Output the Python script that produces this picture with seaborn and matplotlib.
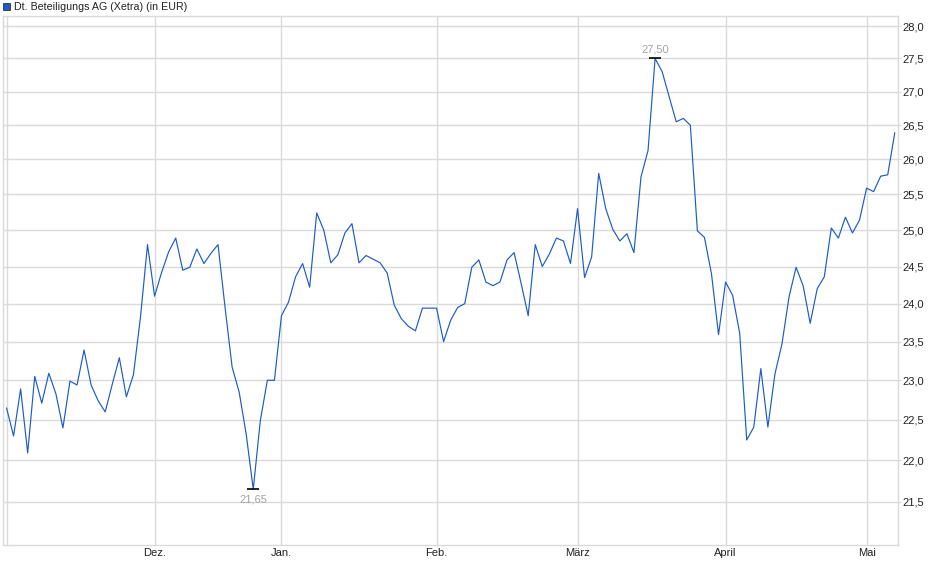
import numpy as np
import pandas as pd
import seaborn as sns
import matplotlib.pyplot as plt
from matplotlib.ticker import FixedLocator, FuncFormatter, NullLocator

# Xetra trading days, Nov 2024 - May 2025
holidays = ["2024-12-24", "2024-12-25", "2024-12-26", "2024-12-31",
            "2025-01-01", "2025-04-18", "2025-04-21", "2025-05-01"]
dates = pd.bdate_range("2024-11-01", "2025-05-08", freq="C", holidays=holidays)

close = [
    22.65, 22.30, 22.89, 22.09, 23.05, 22.71, 23.09, 22.83, 22.40, 22.99,
    22.94, 23.39, 22.94, 22.74, 22.60, 22.95, 23.29, 22.79, 23.07, 23.82,
    24.80, 24.10, 24.42, 24.70, 24.89, 24.45, 24.49, 24.74, 24.54, 24.68,
    24.80, 23.95, 23.17, 22.85, 22.32, 21.65, 22.49, 23.00, 23.00, 23.84,
    24.02, 24.36, 24.54, 24.22, 25.24, 25.00, 24.55, 24.66, 24.96, 25.09,
    24.55, 24.65, 24.60, 24.55, 24.41, 23.98, 23.80, 23.70, 23.64, 23.94,
    23.94, 23.94, 23.50, 23.78, 23.95, 24.00, 24.49, 24.59, 24.29, 24.24,
    24.29, 24.59, 24.69, 24.27, 23.84, 24.80, 24.50, 24.67, 24.89, 24.85,
    24.54, 25.30, 24.35, 24.63, 25.80, 25.30, 25.01, 24.85, 24.95, 24.69,
    25.75, 26.13, 27.50, 27.30, 26.92, 26.55, 26.60, 26.50, 24.99, 24.90,
    24.40, 23.59, 24.29, 24.11, 23.61, 22.25, 22.41, 23.15, 22.41, 23.08,
    23.47, 24.09, 24.49, 24.24, 23.74, 24.20, 24.36, 25.03, 24.89, 25.18,
    24.96, 25.14, 25.59, 25.54, 25.76, 25.78, 26.39,
]
month_labels = ["", "Dez.", "Jan.", "Feb.", "März", "April", "Mai"]
y_ticks = [21.5, 22.0, 22.5, 23.0, 23.5, 24.0, 24.5, 25.0, 25.5, 26.0, 26.5, 27.0, 27.5, 28.0]
title = "Dt. Beteiligungs AG (Xetra) (in EUR)"

df = pd.DataFrame({"day": np.arange(len(close)), "date": dates, "close": close})

sns.set_style("white")
plt.rcParams["font.family"] = ["Liberation Sans", "DejaVu Sans"]

line_color = "#1b5cc6"
grid_color = "#dadada"

fig = plt.figure(figsize=(9.4, 5.79), dpi=100)
ax = fig.add_axes([3 / 940, 34 / 579, 895.3 / 940, 529 / 579])

sns.lineplot(data=df, x="day", y="close", color=line_color, linewidth=0.85, ax=ax)

ax.set_yscale("log")
ax.set_ylim(20.99, 28.156)
ax.set_xlim(-0.5, 126.5)

# month ticks at first trading day of each month
month_start = df.groupby(df["date"].dt.to_period("M"))["day"].min().tolist()
ax.xaxis.set_major_locator(FixedLocator(month_start))
ax.set_xticklabels(month_labels)
ax.yaxis.set_major_locator(FixedLocator(y_ticks))
ax.yaxis.set_minor_locator(NullLocator())
ax.yaxis.set_major_formatter(FuncFormatter(lambda v, p: f"{v:.1f}".replace(".", ",")))
ax.yaxis.tick_right()

ax.grid(True, color=grid_color, linewidth=1.0)
ax.set_axisbelow(True)
for s in ax.spines.values():
    s.set_color(grid_color)
    s.set_linewidth(1.0)
ax.tick_params(axis="both", length=2, color=grid_color, labelsize=8,
               labelcolor="#222222")
ax.tick_params(axis="y", pad=1)
ax.tick_params(axis="x", pad=0.5)
ax.set_xlabel("")
ax.set_ylabel("")

# max / min markers
i_max = int(np.argmax(close))
i_min = int(np.argmin(close))
for i, off, va in [(i_max, 3, "bottom"), (i_min, -3.5, "top")]:
    ax.plot(i, close[i], marker="_", markersize=8, markeredgewidth=1.2, color="black")
    ax.annotate(f"{close[i]:.2f}".replace(".", ","), (i, close[i]),
                xytext=(0, off), textcoords="offset points", ha="center", va=va,
                fontsize=8, color="#a3a3a3")

# legend-like title
fig.patches.append(plt.Rectangle((3 / 940, 1 - 10 / 579), 7 / 940, 7 / 579,
                                 transform=fig.transFigure, facecolor=line_color,
                                 edgecolor="#333333", linewidth=0.6))
fig.text(14 / 940, 1 - 6.5 / 579, title, fontsize=7.7, va="center", ha="left", color="#222222")

fig.savefig("out.png", dpi=100)
